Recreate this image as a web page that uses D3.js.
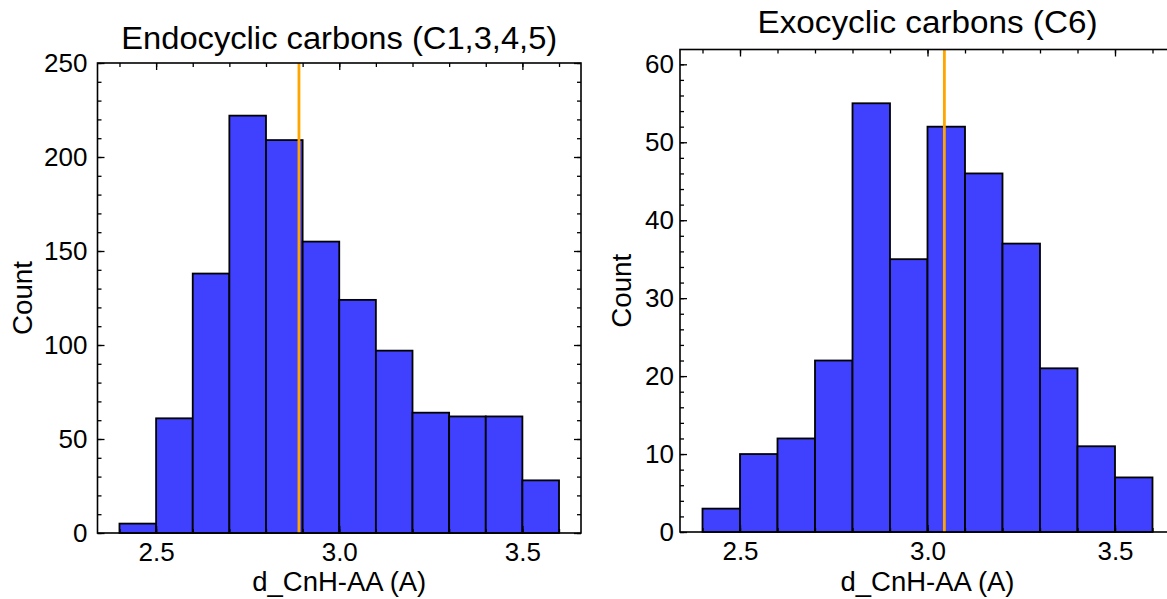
<!DOCTYPE html>
<html>
<head>
<meta charset="utf-8">
<script src="https://cdn.jsdelivr.net/npm/d3@7/dist/d3.min.js"></script>
<style>
  html, body { margin: 0; padding: 0; background: #fff; }
  svg { display: block; }
  text { font-family: "Liberation Sans", Arial, Helvetica, sans-serif; fill: #000; }
</style>
</head>
<body>
<svg id="chart" width="1167" height="599"></svg>
<script>
// ---- data ----
const binEdges = [2.4, 2.5, 2.6, 2.7, 2.8, 2.9, 3.0, 3.1, 3.2, 3.3, 3.4, 3.5, 3.6];
const endoCounts = [5, 61, 138, 222, 209, 155, 124, 97, 64, 62, 62, 28];
const exoCounts = [3, 10, 12, 22, 55, 35, 52, 46, 37, 21, 11, 7];
const endoMarker = 2.89;
const exoMarker = 3.045;
const titles = ["Endocyclic carbons (C1,3,4,5)", "Exocyclic carbons (C6)"];
const xTickValues = [2.5, 3.0, 3.5];
const endoYTicks = [0, 50, 100, 150, 200, 250];
const exoYTicks = [0, 10, 20, 30, 40, 50, 60];
const xLabel = "d_CnH-AA (A)";
const yLabel = "Count";

const svg = d3.select("#chart");

function panel(cfg) {
  const g = svg.append("g");
  const x = d3.scaleLinear().domain([2.34, 3.66]).range([cfg.left, cfg.right]);
  const y = d3.scaleLinear().domain([0, cfg.ymax]).range([cfg.bottom, cfg.top]);

  const bins = cfg.counts.map((c, i) => ({ x0: binEdges[i], x1: binEdges[i + 1], c }));
  g.selectAll("rect.bar").data(bins).enter().append("rect")
    .attr("class", "bar")
    .attr("x", d => x(d.x0))
    .attr("width", d => x(d.x1) - x(d.x0))
    .attr("y", d => y(d.c))
    .attr("height", d => y(0) - y(d.c))
    .attr("fill", "#4040ff")
    .attr("stroke", "#000")
    .attr("stroke-width", 1.8);

  // marker line
  g.append("line")
    .attr("x1", x(cfg.marker)).attr("x2", x(cfg.marker))
    .attr("y1", cfg.top).attr("y2", cfg.bottom)
    .attr("stroke", "#ffa500").attr("stroke-width", 2.8);

  const xMinor = d3.range(23, 37).map(v => v / 10);
  const yMinor = d3.range(0, cfg.ymax + 0.001, cfg.minorStep);

  function styleAxis(sel) {
    sel.select(".domain").remove();
    sel.selectAll("line").attr("stroke", "#000").attr("stroke-width", 1.3);
    sel.selectAll("text").style("font-size", "26px")
      .style("font-family", '"Liberation Sans", Arial, Helvetica, sans-serif');
  }

  // bottom axis
  g.append("g").attr("transform", `translate(0,${cfg.bottom})`)
    .call(d3.axisBottom(x).tickValues(xTickValues).tickFormat(d3.format(".1f")).tickSizeInner(-7).tickSizeOuter(0).tickPadding(10))
    .call(styleAxis)
    .call(s => s.selectAll("text").attr("dy", "0.71em"));
  g.append("g").attr("transform", `translate(0,${cfg.bottom})`)
    .call(d3.axisBottom(x).tickValues(xMinor.filter(v => v > 2.34 && v < 3.66)).tickFormat("").tickSizeInner(-4).tickSizeOuter(0))
    .call(styleAxis);
  // top axis
  g.append("g").attr("transform", `translate(0,${cfg.top})`)
    .call(d3.axisTop(x).tickValues(xTickValues).tickFormat("").tickSizeInner(-7).tickSizeOuter(0))
    .call(styleAxis);
  g.append("g").attr("transform", `translate(0,${cfg.top})`)
    .call(d3.axisTop(x).tickValues(xMinor.filter(v => v > 2.34 && v < 3.66)).tickFormat("").tickSizeInner(-4).tickSizeOuter(0))
    .call(styleAxis);
  // left axis
  g.append("g").attr("transform", `translate(${cfg.left},0)`)
    .call(d3.axisLeft(y).tickValues(cfg.yTicks).tickFormat(d3.format("d")).tickSizeInner(-7).tickSizeOuter(0).tickPadding(cfg.ypad))
    .call(styleAxis);
  g.append("g").attr("transform", `translate(${cfg.left},0)`)
    .call(d3.axisLeft(y).tickValues(yMinor).tickFormat("").tickSizeInner(-4).tickSizeOuter(0))
    .call(styleAxis);
  // right axis
  g.append("g").attr("transform", `translate(${cfg.right},0)`)
    .call(d3.axisRight(y).tickValues(cfg.yTicks).tickFormat("").tickSizeInner(-7).tickSizeOuter(0))
    .call(styleAxis);
  g.append("g").attr("transform", `translate(${cfg.right},0)`)
    .call(d3.axisRight(y).tickValues(yMinor).tickFormat("").tickSizeInner(-4).tickSizeOuter(0))
    .call(styleAxis);

  // frame
  g.append("rect")
    .attr("x", cfg.left).attr("y", cfg.top)
    .attr("width", cfg.right - cfg.left).attr("height", cfg.bottom - cfg.top)
    .attr("fill", "none").attr("stroke", "#000").attr("stroke-width", 1.6);

  // title
  g.append("text")
    .attr("x", (cfg.left + cfg.right) / 2).attr("y", cfg.titleY)
    .attr("text-anchor", "middle")
    .attr("textLength", cfg.titleLen).attr("lengthAdjust", "spacingAndGlyphs")
    .style("font-size", "31px")
    .text(cfg.title);

  // x label
  g.append("text")
    .attr("x", (cfg.left + cfg.right) / 2).attr("y", 591)
    .attr("text-anchor", "middle")
    .attr("textLength", 174).attr("lengthAdjust", "spacingAndGlyphs")
    .style("font-size", "27px")
    .text(xLabel);

  // y label
  g.append("text")
    .attr("transform", `translate(${cfg.ylabX},${(cfg.top + cfg.bottom) / 2}) rotate(-90)`)
    .attr("text-anchor", "middle")
    .attr("textLength", 74).attr("lengthAdjust", "spacingAndGlyphs")
    .style("font-size", "27px")
    .text(yLabel);
}

panel({
  left: 97.5, right: 581, top: 63, bottom: 533,
  ymax: 250, minorStep: 10, yTicks: endoYTicks,
  counts: endoCounts, marker: endoMarker,
  title: titles[0], titleY: 49, titleLen: 436, ypad: 10, ylabX: 32
});
panel({
  left: 680, right: 1175, top: 49.5, bottom: 532,
  ymax: 61.9, minorStep: 2, yTicks: exoYTicks,
  counts: exoCounts, marker: exoMarker,
  title: titles[1], titleY: 33, titleLen: 340, ypad: 6, ylabX: 631
});
</script>
</body>
</html>
